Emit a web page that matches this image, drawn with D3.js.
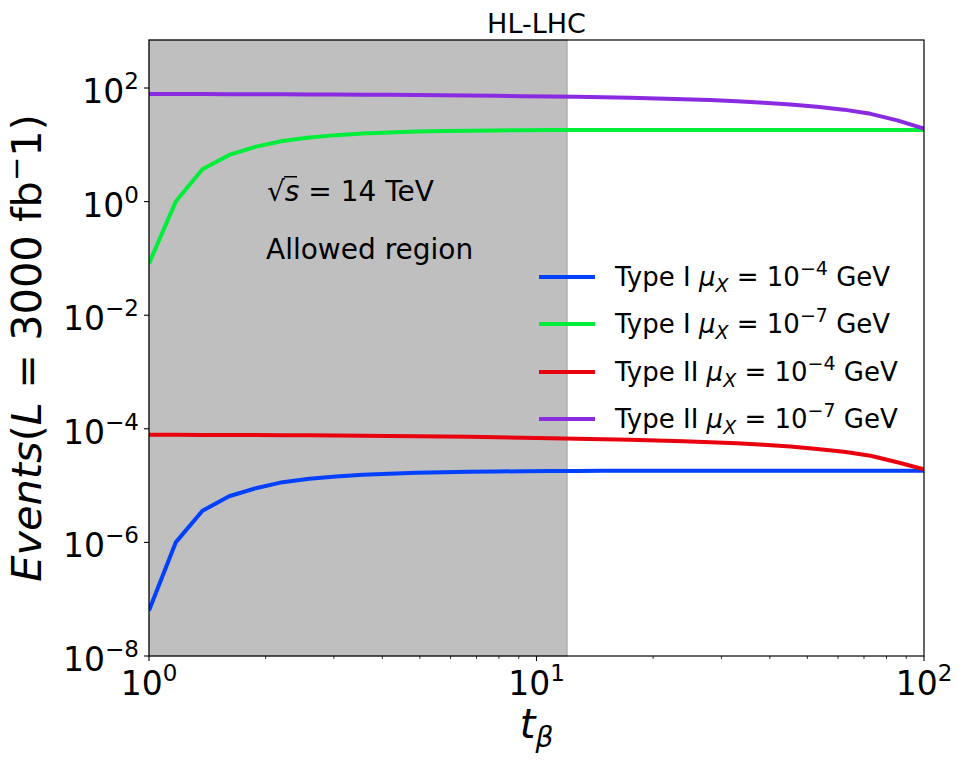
<!DOCTYPE html>
<html>
<head>
<meta charset="utf-8">
<script src="https://cdn.jsdelivr.net/npm/d3@7"></script>
<style>
  body { margin: 0; background: #fff; }
  svg { font-family: "DejaVu Sans", sans-serif; }
</style>
</head>
<body>
<svg id="chart" width="965" height="763"></svg>
<script>
// tan(beta) sample points (log spaced 1..100)
const tanBeta = [1.000, 1.172, 1.374, 1.610, 1.887, 2.212, 2.593, 3.039, 3.562, 4.175,
  4.894, 5.736, 6.723, 7.880, 9.237, 10.83, 12.69, 14.87, 17.43, 20.43,
  23.95, 28.07, 32.90, 38.57, 45.20, 52.98, 62.10, 72.79, 85.32, 100.0];

// Type I, mu_X = 1e-4 GeV
const typeIMu4 = [6.3e-8, 1.0e-6, 3.6e-6, 6.5e-6, 9.0e-6, 1.15e-5, 1.32e-5, 1.45e-5, 1.55e-5, 1.62e-5,
  1.68e-5, 1.72e-5, 1.75e-5, 1.77e-5, 1.79e-5, 1.80e-5, 1.81e-5, 1.82e-5, 1.82e-5, 1.83e-5,
  1.83e-5, 1.83e-5, 1.83e-5, 1.83e-5, 1.83e-5, 1.83e-5, 1.83e-5, 1.83e-5, 1.83e-5, 1.83e-5];

// Type I, mu_X = 1e-7 GeV
const typeIMu7 = [0.081, 1.00, 3.72, 6.64, 9.29, 11.7, 13.4, 14.8, 15.8, 16.5,
  17.1, 17.5, 17.7, 17.9, 18.1, 18.2, 18.2, 18.3, 18.3, 18.3,
  18.3, 18.3, 18.3, 18.3, 18.3, 18.3, 18.3, 18.3, 18.3, 18.3];

// Type II, mu_X = 1e-4 GeV
const typeIIMu4 = [7.85e-5, 7.83e-5, 7.81e-5, 7.79e-5, 7.75e-5, 7.72e-5, 7.68e-5, 7.63e-5, 7.57e-5, 7.50e-5,
  7.42e-5, 7.33e-5, 7.22e-5, 7.10e-5, 6.97e-5, 6.84e-5, 6.70e-5, 6.55e-5, 6.40e-5, 6.22e-5,
  6.02e-5, 5.80e-5, 5.55e-5, 5.24e-5, 4.88e-5, 4.40e-5, 3.95e-5, 3.35e-5, 2.57e-5, 1.93e-5];

// Type II, mu_X = 1e-7 GeV
const typeIIMu7 = [78.5, 78.3, 78.2, 78.0, 77.6, 77.4, 77.1, 76.7, 76.2, 75.7,
  75.2, 74.5, 73.8, 72.9, 71.9, 71.0, 69.8, 68.5, 67.1, 65.5,
  63.5, 61.2, 58.5, 55.2, 51.4, 46.6, 41.6, 35.1, 26.9, 19.3];

const seriesNames = ["Type I", "Type I", "Type II", "Type II"];
const seriesMu = ["4", "7", "4", "7"];
const seriesColors = ["#0041ff", "#00ee3a", "#e8000e", "#8a2be2"];
const seriesData = [typeIMu4, typeIMu7, typeIIMu4, typeIIMu7];

const xTicks = [1, 10, 100];
const xTickExp = ["0", "1", "2"];
const xMinor = [2, 3, 4, 5, 6, 7, 8, 9, 20, 30, 40, 50, 60, 70, 80, 90];
const yTicks = [1e-8, 1e-6, 1e-4, 1e-2, 1, 1e2];
const yTickExp = ["\u22128", "\u22126", "\u22124", "\u22122", "0", "2"];
const allowedMax = 12;

const margin = {left: 149, right: 41, top: 40, bottom: 107};
const svg = d3.select("#chart");
const width = +svg.attr("width");
const height = +svg.attr("height");

const x = d3.scaleLog().domain([1, 100]).range([margin.left, width - margin.right]);
const y = d3.scaleLog().domain([1e-8, 700]).range([height - margin.bottom, margin.top]);

svg.append("clipPath").attr("id", "plotclip")
  .append("rect")
  .attr("x", margin.left).attr("y", margin.top)
  .attr("width", x(100) - margin.left).attr("height", y(1e-8) - margin.top);

// shaded allowed region
svg.append("rect")
  .attr("x", x(1)).attr("y", margin.top)
  .attr("width", x(allowedMax) - x(1))
  .attr("height", y(1e-8) - margin.top)
  .attr("fill", "gray").attr("fill-opacity", 0.5)
  .attr("stroke", "gray").attr("stroke-opacity", 0.4).attr("stroke-width", 1.5);

const line = d3.line()
  .x((d, i) => x(tanBeta[i]))
  .y(d => y(d));

const plot = svg.append("g").attr("clip-path", "url(#plotclip)");
seriesData.forEach((s, k) => {
  plot.append("path")
    .datum(s)
    .attr("fill", "none")
    .attr("stroke", seriesColors[k])
    .attr("stroke-width", 4)
    .attr("stroke-linejoin", "round")
    .attr("d", line);
});

// axes frame
svg.append("rect")
  .attr("x", margin.left).attr("y", margin.top)
  .attr("width", x(100) - margin.left).attr("height", y(1e-8) - margin.top)
  .attr("fill", "none").attr("stroke", "#000").attr("stroke-width", 1.2);

// x axis
const xAxis = svg.append("g").attr("transform", `translate(0,${y(1e-8)})`);
xAxis.selectAll(".major").data(xTicks).enter().append("line")
  .attr("x1", d => x(d)).attr("x2", d => x(d))
  .attr("y1", 0).attr("y2", 5)
  .attr("stroke", "#000").attr("stroke-width", 1.1);
xAxis.selectAll(".minor").data(xMinor).enter().append("line")
  .attr("x1", d => x(d)).attr("x2", d => x(d))
  .attr("y1", 0).attr("y2", 3)
  .attr("stroke", "#000").attr("stroke-width", 0.8);
const xl = xAxis.selectAll(".lab").data(xTicks).enter().append("text")
  .attr("x", d => x(d)).attr("y", 39)
  .attr("text-anchor", "middle")
  .attr("font-size", 33);
xl.append("tspan").text("10");
xl.append("tspan").attr("dy", -14).attr("font-size", 23).text((d, i) => xTickExp[i]);

// y axis
const yAxis = svg.append("g").attr("transform", `translate(${margin.left},0)`);
yAxis.selectAll(".major").data(yTicks).enter().append("line")
  .attr("x1", -5).attr("x2", 0)
  .attr("y1", d => y(d)).attr("y2", d => y(d))
  .attr("stroke", "#000").attr("stroke-width", 1.1);
const yl = yAxis.selectAll(".lab").data(yTicks).enter().append("text")
  .attr("x", -10).attr("y", d => y(d) + 15)
  .attr("text-anchor", "end")
  .attr("font-size", 33);
yl.append("tspan").text("10");
yl.append("tspan").attr("dy", -14).attr("font-size", 23).text((d, i) => yTickExp[i]);

// title
svg.append("text")
  .attr("x", (x(1) + x(100)) / 2).attr("y", 33)
  .attr("text-anchor", "middle").attr("font-size", 27)
  .text("HL-LHC");

// axis labels
const xLab = svg.append("text")
  .attr("x", (x(1) + x(100)) / 2).attr("y", 738)
  .attr("text-anchor", "middle").attr("font-size", 40)
  .attr("font-style", "italic");
xLab.append("tspan").text("t");
xLab.append("tspan").attr("dy", 9).attr("font-size", 28).text("\u03b2");

const yLab = svg.append("text")
  .attr("transform", `translate(41,${(y(1e-8) + y(700)) / 2}) rotate(-90)`)
  .attr("text-anchor", "middle").attr("font-size", 41.5);
yLab.append("tspan").attr("font-style", "italic").text("Events");
yLab.append("tspan").text("(");
yLab.append("tspan").attr("font-style", "italic").text("L");
yLab.append("tspan").text(" = 3000 fb");
yLab.append("tspan").attr("dy", -15).attr("font-size", 29).text("\u2212");
yLab.append("tspan").attr("dy", 15).text("1)");

// annotations
const sq = svg.append("text").attr("x", 267).attr("y", 201).attr("font-size", 28);
sq.append("tspan").text("\u221a");
sq.append("tspan").attr("font-style", "italic").text("s");
sq.append("tspan").text(" = 14 TeV");
svg.append("rect")
  .attr("x", 284).attr("y", 176).attr("width", 13).attr("height", 1.5).attr("fill", "#000");
svg.append("text").attr("x", 266).attr("y", 259).attr("font-size", 28)
  .text("Allowed region");

// legend
const legendRows = [277, 324, 372, 419];
const leg = svg.append("g");
seriesData.forEach((s, k) => {
  leg.append("line")
    .attr("x1", 539).attr("x2", 595)
    .attr("y1", legendRows[k]).attr("y2", legendRows[k])
    .attr("stroke", seriesColors[k]).attr("stroke-width", 4);
  const t = leg.append("text").attr("x", 615).attr("y", legendRows[k] + 9).attr("font-size", 26);
  t.append("tspan").text(seriesNames[k] + " ");
  t.append("tspan").attr("font-style", "italic").text("\u03bc");
  t.append("tspan").attr("font-style", "italic").attr("dy", 6).attr("font-size", 19).text("X");
  t.append("tspan").attr("dy", -6).text(" = 10");
  t.append("tspan").attr("dy", -11).attr("font-size", 19).text("\u2212" + seriesMu[k]);
  t.append("tspan").attr("dy", 11).text(" GeV");
});
</script>
</body>
</html>
